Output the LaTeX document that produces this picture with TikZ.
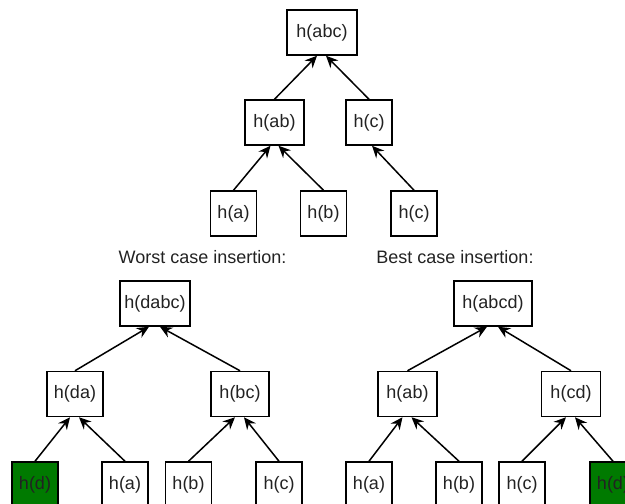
\documentclass[tikz,border=0pt]{standalone}
\usepackage{fontspec}
\setmainfont{Liberation Sans}
\usetikzlibrary{arrows.meta}
\definecolor{leafgreen}{RGB}{0,122,0}
\definecolor{inktext}{RGB}{34,34,34}
\begin{document}
\begin{tikzpicture}[x=1pt,y=-1pt,
  hbox/.style={draw=black, line width=1.5pt, fill=white, minimum height=45pt,
    inner sep=0pt, text=inktext, font=\fontsize{18}{21}\selectfont},
  leaf/.style={hbox, minimum width=46pt},
  newleaf/.style={leaf, fill=leafgreen},
  caption/.style={text=inktext, font=\fontsize{18}{21}\selectfont},
  link/.style={line width=1.5pt, -{Stealth[length=12pt,width=11pt,inset=4pt]}}]
\useasboundingbox (0,0) rectangle (625,504);

% original tree
\node[hbox, minimum width=70pt] (abc) at (322,32.5) {h(abc)};
\node[hbox, minimum width=59pt] (ab) at (274.5,122.5) {h(ab)};
\node[leaf] (c) at (369,122.5) {h(c)};
\node[leaf] (la) at (233.5,213.5) {h(a)};
\node[leaf] (lb) at (323.5,213.5) {h(b)};
\node[leaf] (lc) at (414,213.5) {h(c)};
\draw[link] (ab.north) -- ([xshift=-5pt]abc.south);
\draw[link] (c.north) -- ([xshift=4pt]abc.south);
\draw[link] (la.north) -- ([xshift=-4pt]ab.south);
\draw[link] (lb.north) -- ([xshift=4pt]ab.south);
\draw[link] (lc.north) -- ([xshift=3pt]c.south);

% captions
\node[caption] (worst) at (202.5,257) {Worst case insertion:};
\node[caption] (best) at (455,257) {Best case insertion:};

% worst case tree
\node[hbox, minimum width=70pt] (dabc) at (155,303.5) {h(dabc)};
\node[hbox, minimum width=56pt] (da) at (75,394) {h(da)};
\node[hbox, minimum width=58pt] (bc) at (240,394) {h(bc)};
\node[newleaf] (wd) at (35,484.5) {h(d)};
\node[leaf] (wa) at (125,484.5) {h(a)};
\node[leaf] (wb) at (188.5,484.5) {h(b)};
\node[leaf] (wc) at (279,484.5) {h(c)};
\draw[link] (da.north) -- ([xshift=-6pt]dabc.south);
\draw[link] (bc.north) -- ([xshift=5pt]dabc.south);
\draw[link] (wd.north) -- ([xshift=-5pt]da.south);
\draw[link] (wa.north) -- ([xshift=4pt]da.south);
\draw[link] (wb.north) -- ([xshift=-5pt]bc.south);
\draw[link] (wc.north) -- ([xshift=4pt]bc.south);

% best case tree
\node[hbox, minimum width=78pt] (abcd) at (493,303.5) {h(abcd)};
\node[hbox, minimum width=59pt] (ab2) at (407.5,394) {h(ab)};
\node[hbox, minimum width=59pt] (cd) at (571,394) {h(cd)};
\node[leaf] (ba) at (369,484.5) {h(a)};
\node[leaf] (bb) at (459,484.5) {h(b)};
\node[leaf] (bc2) at (522,484.5) {h(c)};
\node[newleaf] (bd) at (613,484.5) {h(d)};
\draw[link] (ab2.north) -- ([xshift=-6pt]abcd.south);
\draw[link] (cd.north) -- ([xshift=5pt]abcd.south);
\draw[link] (ba.north) -- ([xshift=-5pt]ab2.south);
\draw[link] (bb.north) -- ([xshift=4pt]ab2.south);
\draw[link] (bc2.north) -- ([xshift=-5pt]cd.south);
\draw[link] (bd.north) -- ([xshift=4pt]cd.south);
\end{tikzpicture}
\end{document}
